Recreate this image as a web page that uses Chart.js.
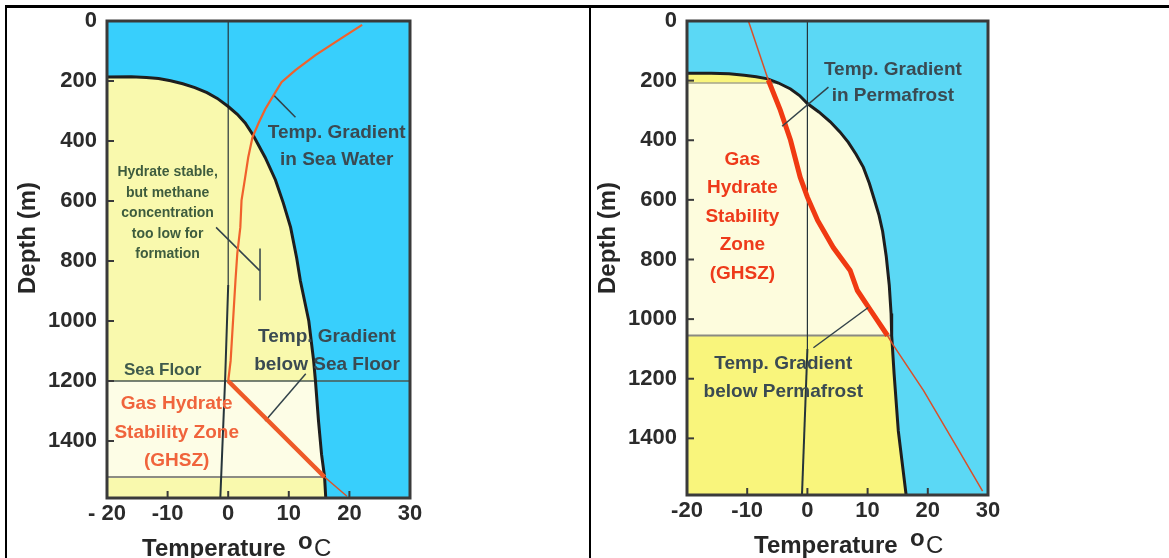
<!DOCTYPE html>
<html>
<head>
<meta charset="utf-8">
<script src="https://cdn.jsdelivr.net/npm/chart.js@4.4.1/dist/chart.umd.min.js"></script>
<style>
  body { margin: 0; background: #fff; width: 1169px; height: 558px; overflow: hidden; position: relative; }
  .rule { position: absolute; background: #000; }
  #ruleTop { left: 5px; top: 5px; width: 1164px; height: 3px; }
  #ruleLeft { left: 5px; top: 5px; width: 2px; height: 553px; }
  #ruleMid { left: 589px; top: 5px; width: 2px; height: 553px; }
  canvas { position: absolute; top: 8px; }
  #sea { left: 8px; }
  #perma { left: 591px; }
</style>
</head>
<body>
<div class="rule" id="ruleTop"></div>
<div class="rule" id="ruleLeft"></div>
<div class="rule" id="ruleMid"></div>
<canvas id="sea" width="581" height="550"></canvas>
<canvas id="perma" width="578" height="550"></canvas>
<script>
// axes
const tempMin = -20, tempMax = 30, depthMax = 1590;
const xTicks = [-20, -10, 0, 10, 20, 30];
const seaXLabels = ['- 20', '-10', '0', '10', '20', '30'];
const permaXLabels = ['-20', '-10', '0', '10', '20', '30'];
const yTicks = [0, 200, 400, 600, 800, 1000, 1200, 1400];

// marine setting (left)
const seaStabTemp  = [-20, -16, -13.5, -11.5, -9.5, -7.5, -5.5, -3.5, -1.8, 0, 1.5, 2.8, 4.1, 6.1, 7.8, 9.1, 10.3, 11.3, 11.9, 13.3, 14.1, 14.4, 14.9, 15.4, 15.9, 16.1];
const seaStabDepth = [187, 186, 188, 192, 199, 209, 222, 239, 258, 285, 311, 340, 380, 455, 530, 607, 688, 790, 865, 1000, 1133, 1200, 1333, 1444, 1520, 1590];
const seaWaterTemp  = [22.1, 18.7, 14.4, 11.1, 8.8, 7.5, 6.1, 5.0, 4.0, 3.3, 2.8, 2.2, 2.0, 1.5, 1.2, 0.8, 0.4, 0];
const seaWaterDepth = [13, 57, 114, 164, 204, 247, 294, 341, 388, 455, 521, 598, 688, 775, 865, 999, 1133, 1200];
const seaSedTemp  = [0, 15.9];
const seaSedDepth = [1200, 1520];
const seaDeepTemp  = [15.9, 19.6];
const seaDeepDepth = [1520, 1584];
const seaIceTemp  = [0, 0, -0.5, -1.3];
const seaIceDepth = [0, 880, 1190, 1590];
const seaFloorDepth = 1200;
const seaGhszBase = 1520;
const seaLeaders = [
  { t: [7.5, 11.1], d: [247, 321] },
  { t: [-2.0, 5.2], d: [688, 832] },
  { t: [5.25, 5.25], d: [758, 932] },
  { t: [6.1, 12.8], d: [1333, 1176] }
];

// permafrost setting (right)
const permaStabTemp  = [-20, -16, -13, -10.5, -8.5, -6.6, -4.8, -2.8, -1.3, 0, 1.9, 3.8, 5.4, 6.8, 8.1, 9.3, 10.3, 11.1, 11.9, 12.5, 13.1, 13.6, 13.9, 14.0, 14.4, 15.1, 16.4];
const permaStabDepth = [175, 175, 177, 182, 187, 194, 208, 228, 250, 277, 305, 338, 372, 407, 448, 491, 545, 598, 652, 706, 790, 887, 981, 1055, 1183, 1375, 1590];
const permaTopTemp  = [-9.8, -6.5];
const permaTopDepth = [0, 198];
const permaGradTemp  = [-6.5, -4.5, -2.8, -1.2, 0, 1.7, 4.3, 7.1, 8.3, 10.5, 13.3];
const permaGradDepth = [198, 299, 400, 524, 591, 669, 760, 837, 904, 971, 1055];
const permaBelowTemp  = [13.3, 14.1, 19.3, 24.9, 29.1];
const permaBelowDepth = [1055, 1082, 1240, 1432, 1577];
const permaIceTemp  = [0, 0, -0.9];
const permaIceDepth = [0, 1100, 1590];
const permaTopZone = 208;
const permaGhszBase = 1055;
const permaLeaders = [
  { t: [3.5, -4.2], d: [222, 353] },
  { t: [1.0, 10.1], d: [1096, 961] }
];

const FONT = '"Liberation Sans", Arial, sans-serif';

function pts(ts, ds) { return ts.map((t, i) => ({ x: t, y: ds[i] })); }

function line(data, color, width, order, extra) {
  return Object.assign({ data, showLine: true, borderColor: color, borderWidth: width,
    pointRadius: 0, fill: false, tension: 0, order }, extra || {});
}
function area(data, color, order) {
  return { data, showLine: true, borderWidth: 0, borderColor: 'rgba(0,0,0,0)',
    backgroundColor: color, pointRadius: 0, fill: 'shape', tension: 0, order };
}

function decor(spec) {
  return {
    id: 'decor',
    beforeDatasetsDraw(chart) {
      const { ctx, chartArea: a } = chart;
      ctx.save();
      ctx.fillStyle = spec.water;
      ctx.fillRect(a.left, a.top, a.width, a.height);
      ctx.restore();
    },
    afterDatasetsDraw(chart) {
      const { ctx, chartArea: a, scales: { x, y } } = chart;
      ctx.save();
      ctx.strokeStyle = '#3a3a3a';
      ctx.lineWidth = 3;
      ctx.strokeRect(a.left, a.top, a.width, a.height);
      ctx.lineWidth = 2;
      x.ticks.forEach(t => {
        const px = x.getPixelForValue(t.value);
        ctx.beginPath(); ctx.moveTo(px, a.bottom); ctx.lineTo(px, a.bottom - 7); ctx.stroke();
      });
      y.ticks.forEach(t => {
        const py = y.getPixelForValue(t.value);
        ctx.beginPath(); ctx.moveTo(a.left, py); ctx.lineTo(a.left + 7, py); ctx.stroke();
      });

      ctx.textAlign = 'center';
      ctx.textBaseline = 'middle';
      spec.notes.forEach(n => {
        ctx.font = n.font;
        ctx.fillStyle = n.color;
        n.lines.forEach((s, i) => {
          ctx.fillText(s, x.getPixelForValue(n.t), y.getPixelForValue(n.d) + i * n.lh);
        });
      });

      // axis titles
      ctx.fillStyle = '#262626';
      ctx.font = 'bold 24px ' + FONT;
      ctx.save();
      ctx.translate(a.left - 79, a.top + 217);
      ctx.rotate(-Math.PI / 2);
      ctx.fillText('Depth (m)', 0, 0);
      ctx.restore();
      ctx.textAlign = 'left';
      ctx.textBaseline = 'alphabetic';
      const tx = a.left + spec.titleShift, ty = a.bottom + 58;
      ctx.fillText('Temperature', tx, ty);
      ctx.fillText('o', tx + 156, ty - 7);
      ctx.font = '24px ' + FONT;
      ctx.fillText('C', tx + 172, ty);
      ctx.restore();
    }
  };
}

function makeChart(id, spec) {
  new Chart(document.getElementById(id), {
    type: 'scatter',
    data: { datasets: spec.datasets },
    options: {
      responsive: false,
      animation: false,
      events: [],
      layout: { padding: { top: 13, right: spec.padRight, left: 0, bottom: 0 } },
      plugins: { legend: { display: false }, tooltip: { enabled: false } },
      scales: {
        x: {
          type: 'linear', min: tempMin, max: tempMax,
          afterBuildTicks: s => { s.ticks = xTicks.map(v => ({ value: v })); },
          afterFit: s => { s.height = spec.xHeight; s.paddingLeft = 0; s.paddingRight = 0; },
          grid: { display: false, drawTicks: false },
          border: { display: false },
          ticks: {
            autoSkip: false, maxRotation: 0, padding: 3, color: '#2b2b2b',
            font: { family: FONT, size: 22, weight: 'bold' },
            callback: (v, i) => spec.xLabels[i]
          }
        },
        y: {
          type: 'linear', reverse: true, min: 0, max: depthMax,
          afterBuildTicks: s => { s.ticks = yTicks.map(v => ({ value: v })); },
          afterFit: s => { s.width = spec.yWidth; s.paddingTop = 0; s.paddingBottom = 0; },
          grid: { display: false, drawTicks: false },
          border: { display: false },
          ticks: {
            padding: 10, color: '#2b2b2b',
            font: { family: FONT, size: 22, weight: 'bold' },
            callback: v => String(v)
          }
        }
      }
    },
    plugins: [decor(spec)]
  });
}

// left panel
const seaCurve = pts(seaStabTemp, seaStabDepth);
const seaYellow = [{ x: tempMin, y: depthMax }].concat(seaCurve);
const seaCream = [{ x: tempMin, y: seaGhszBase }, { x: tempMin, y: seaFloorDepth }]
  .concat(seaCurve.filter(p => p.y >= seaFloorDepth && p.y <= seaGhszBase));

makeChart('sea', {
  padRight: 179, yWidth: 99, xHeight: 60, titleShift: 35,
  xLabels: seaXLabels,
  water: '#38cffc',
  datasets: [
    area(seaYellow, '#f9f9ad', 20),
    area(seaCream, '#fdfde6', 19),
    line(pts([tempMin, tempMax], [seaFloorDepth, seaFloorDepth]), '#4a5852', 1.6, 15),
    line(pts([tempMin, seaSedTemp[1]], [seaGhszBase, seaGhszBase]), '#8c8c84', 2, 15),
    line(pts(seaIceTemp, seaIceDepth), '#26343a', 1.2, 14,
      { segment: { borderWidth: c => c.p0DataIndex >= 1 ? 2 : 1.2 } }),
    line(seaCurve, '#1e1e1e', 3, 10),
    line(pts(seaWaterTemp, seaWaterDepth), '#f0612c', 2.2, 5),
    line(pts(seaSedTemp, seaSedDepth), '#ee5a28', 4.5, 4),
    line(pts(seaDeepTemp, seaDeepDepth), '#d9542a', 1.5, 4)
  ].concat(seaLeaders.map(l => line(pts(l.t, l.d), '#33434a', 1.5, 8))),
  notes: [
    { lines: ['Temp. Gradient', 'in Sea Water'], t: 17.9, d: 371, lh: 27, color: '#3a4a52', font: 'bold 19px ' + FONT },
    { lines: ['Hydrate stable,', 'but methane', 'concentration', 'too low for', 'formation'], t: -10, d: 505, lh: 20.5, color: '#3e5c3e', font: 'bold 14px ' + FONT },
    { lines: ['Temp. Gradient', 'below Sea Floor'], t: 16.3, d: 1052, lh: 28, color: '#3a4a52', font: 'bold 19px ' + FONT },
    { lines: ['Sea Floor'], t: -10.8, d: 1166, lh: 0, color: '#3f5a4c', font: 'bold 17px ' + FONT },
    { lines: ['Gas Hydrate', 'Stability Zone', '(GHSZ)'], t: -8.5, d: 1277, lh: 28.5, color: '#f0643c', font: 'bold 19px ' + FONT }
  ]
});

// right panel
const permaCurve = pts(permaStabTemp, permaStabDepth);
const permaYellow = [{ x: tempMin, y: depthMax }].concat(permaCurve);
const permaCream = [{ x: tempMin, y: permaGhszBase }, { x: tempMin, y: permaTopZone }]
  .concat(permaCurve.filter(p => p.y >= permaTopZone && p.y <= permaGhszBase));

makeChart('perma', {
  padRight: 181, yWidth: 96, xHeight: 63, titleShift: 67,
  xLabels: permaXLabels,
  water: '#5bd8f5',
  datasets: [
    area(permaYellow, '#f9f57c', 20),
    area(permaCream, '#fdfcdd', 19),
    line(pts([tempMin, 14.0], [permaGhszBase, permaGhszBase]), '#8a8a82', 2, 15),
    line(pts([tempMin, -4.8], [permaTopZone, permaTopZone]), '#a4a48a', 1.5, 15),
    line(pts(permaIceTemp, permaIceDepth), '#26343a', 1.2, 14,
      { segment: { borderWidth: c => c.p0DataIndex >= 1 ? 2 : 1.2 } }),
    line(permaCurve, '#1e1e1e', 3, 10),
    line(pts(permaTopTemp, permaTopDepth), '#d9502a', 1.5, 5),
    line(pts(permaGradTemp, permaGradDepth), '#f03a12', 5, 4),
    line(pts(permaBelowTemp, permaBelowDepth), '#d9502a', 1.5, 5)
  ].concat(permaLeaders.map(l => line(pts(l.t, l.d), '#33434a', 1.5, 3))),
  notes: [
    { lines: ['Temp. Gradient', 'in Permafrost'], t: 14.2, d: 165, lh: 26, color: '#3a4a52', font: 'bold 19px ' + FONT },
    { lines: ['Gas', 'Hydrate', 'Stability', 'Zone', '(GHSZ)'], t: -10.8, d: 464, lh: 28.5, color: '#ee3a1a', font: 'bold 19px ' + FONT },
    { lines: ['Temp. Gradient', 'below Permafrost'], t: -4.0, d: 1150, lh: 28, color: '#3a4a52', font: 'bold 19px ' + FONT }
  ]
});
</script>
</body>
</html>
